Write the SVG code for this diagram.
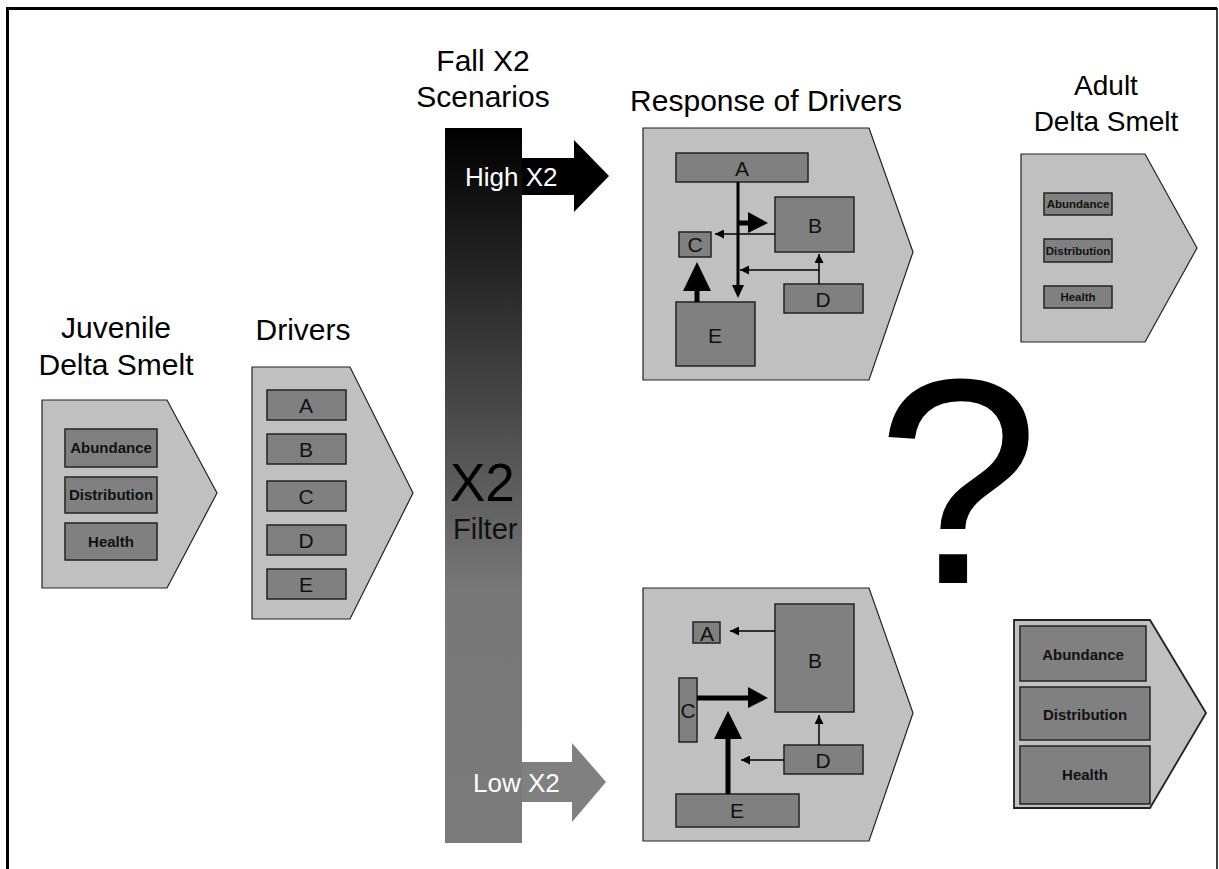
<svg xmlns="http://www.w3.org/2000/svg" width="1219" height="869" viewBox="0 0 1219 869">
<defs>
<linearGradient id="barGrad" x1="0" y1="128" x2="0" y2="843" gradientUnits="userSpaceOnUse">
<stop offset="0" stop-color="#000"/>
<stop offset="0.65" stop-color="#787878"/>
<stop offset="1" stop-color="#7a7a7a"/>
</linearGradient>
<marker id="thin" markerUnits="userSpaceOnUse" markerWidth="9" markerHeight="9" refX="9" refY="4.5" orient="auto">
<path d="M0,0 L9,4.5 L0,9 z" fill="#000"/>
</marker>
</defs>
<style>
.title{font-family:"Liberation Sans",Arial,sans-serif;font-size:30px;fill:#000;text-anchor:middle}
.shape{fill:#c0c0c0;stroke:#222;stroke-width:1.2}
.box{fill:#808080;stroke:#222;stroke-width:1.5}
.bl{font-family:"Liberation Sans",Arial,sans-serif;font-weight:bold;fill:#111;text-anchor:middle}
.let{font-family:"Liberation Sans",Arial,sans-serif;font-size:21px;fill:#111;text-anchor:middle}
.thin{stroke:#000;stroke-width:1.5;fill:none}
.thick{stroke:#000;stroke-width:5;fill:none}
.head{fill:#000}
.wt{font-family:"Liberation Sans",Arial,sans-serif;font-size:26px;fill:#fff}
</style>
<rect x="0" y="0" width="1219" height="869" fill="#fff"/>
<path d="M7.5,869 V8.5 H1217" fill="none" stroke="#000" stroke-width="3"/>
<path d="M1217,8 V869" fill="none" stroke="#000" stroke-width="1.5"/>

<g id="juvenile">
<text class="title" x="116" y="338">Juvenile</text>
<text class="title" x="116" y="375">Delta Smelt</text>
<polygon class="shape" points="42,400 167,400 217,493 167,588 42,588"/>
<rect class="box" x="65" y="429" width="92" height="38"/>
<rect class="box" x="65" y="477" width="92" height="36"/>
<rect class="box" x="65" y="523" width="92" height="37"/>
<text class="bl" font-size="15" x="111" y="453">Abundance</text>
<text class="bl" font-size="15" x="111" y="500">Distribution</text>
<text class="bl" font-size="15" x="111" y="547">Health</text>
</g>

<g id="drivers">
<text class="title" x="303" y="340">Drivers</text>
<polygon class="shape" points="252,367 350,367 413,493 350,619 252,619"/>
<rect class="box" x="267" y="390" width="79" height="30"/>
<rect class="box" x="267" y="434" width="79" height="30"/>
<rect class="box" x="267" y="481" width="79" height="30"/>
<rect class="box" x="267" y="525" width="79" height="30"/>
<rect class="box" x="267" y="569" width="79" height="30"/>
<text class="let" x="306" y="413">A</text>
<text class="let" x="306" y="457">B</text>
<text class="let" x="306" y="504">C</text>
<text class="let" x="306" y="548">D</text>
<text class="let" x="306" y="592">E</text>
</g>

<g id="filter">
<text class="title" x="483" y="71">Fall X2</text>
<text class="title" x="483" y="107">Scenarios</text>
<rect x="445" y="128" width="77" height="715" fill="url(#barGrad)"/>
<polygon points="522,158 574,158 574,140 609,176 574,212 574,195 522,195" fill="#000"/>
<polygon points="522,762 572,762 572,743 606,782 572,822 572,802 522,802" fill="#808080"/>
<text class="wt" x="465" y="186">High X2</text>
<text class="wt" x="473" y="792">Low X2</text>
<text x="450" y="501" font-family="Liberation Sans,Arial,sans-serif" font-size="53" fill="#000">X2</text>
<text x="453" y="539" font-family="Liberation Sans,Arial,sans-serif" font-size="29" fill="#111">Filter</text>
</g>

<g id="response-high">
<text class="title" x="766" y="111">Response of Drivers</text>
<polygon class="shape" points="643,128 869,128 913,252 869,380 643,380"/>
<rect class="box" x="676" y="153" width="132" height="29"/>
<rect class="box" x="775" y="197" width="79" height="55"/>
<rect class="box" x="679" y="232" width="32" height="25"/>
<rect class="box" x="784" y="284" width="79" height="29"/>
<rect class="box" x="676" y="302" width="79" height="64"/>
<text class="let" x="742" y="176">A</text>
<text class="let" x="815" y="233">B</text>
<text class="let" x="695" y="252">C</text>
<text class="let" x="823" y="307">D</text>
<text class="let" x="715" y="343">E</text>
</g>

<g id="response-low">
<polygon class="shape" points="643,588 869,588 913,713 869,841 643,841"/>
<rect class="box" x="693" y="622" width="27" height="21"/>
<rect class="box" x="775" y="604" width="79" height="108"/>
<rect class="box" x="679" y="678" width="18" height="64"/>
<rect class="box" x="784" y="745" width="79" height="29"/>
<rect class="box" x="676" y="794" width="123" height="33"/>
<text class="let" x="707" y="641">A</text>
<text class="let" x="815" y="668">B</text>
<text class="let" x="688" y="718">C</text>
<text class="let" x="823" y="768">D</text>
<text class="let" x="737" y="818">E</text>
</g>

<g id="adult-top">
<text class="title" x="1106" y="95" style="font-size:28px">Adult</text>
<text class="title" x="1106" y="131" style="font-size:28px">Delta Smelt</text>
<polygon class="shape" points="1021,154 1145,154 1197,248 1145,342 1021,342"/>
<rect class="box" x="1044" y="193" width="68" height="22"/>
<rect class="box" x="1044" y="239" width="68" height="23"/>
<rect class="box" x="1044" y="286" width="68" height="22"/>
<text class="bl" font-size="11.5" x="1078" y="208">Abundance</text>
<text class="bl" font-size="11.5" x="1078" y="254.5">Distribution</text>
<text class="bl" font-size="11.5" x="1078" y="301">Health</text>
</g>

<g id="adult-bottom">
<polygon class="shape" points="1014,620 1150,620 1206,713 1150,808 1014,808" style="stroke-width:1.8"/>
<rect class="box" x="1020" y="626" width="126" height="55"/>
<rect class="box" x="1020" y="687" width="130" height="53"/>
<rect class="box" x="1020" y="746" width="130" height="58"/>
<text class="bl" font-size="15" x="1083" y="660">Abundance</text>
<text class="bl" font-size="15" x="1085" y="720">Distribution</text>
<text class="bl" font-size="15" x="1085" y="780">Health</text>
</g>

<g id="question">
<text x="958" y="583" font-family="Liberation Sans,Arial,sans-serif" font-size="293" fill="#000" text-anchor="middle">?</text>
</g>

<g id="connectors">
<line x1="738" y1="182" x2="738" y2="287" stroke="#000" stroke-width="3"/>
<polygon class="head" points="732,285 744,285 738,298"/>
<line class="thick" x1="738" y1="223" x2="750" y2="223"/>
<polygon class="head" points="748,212 768,223 748,233"/>
<line class="thin" x1="775" y1="234" x2="715" y2="234" marker-end="url(#thin)"/>
<line class="thin" x1="819" y1="284" x2="819" y2="254" marker-end="url(#thin)"/>
<line class="thin" x1="819" y1="270" x2="740" y2="270" marker-end="url(#thin)"/>
<line class="thick" x1="697" y1="302" x2="697" y2="289"/>
<polygon class="head" points="683,291 711,291 697,262"/>

<line class="thin" x1="775" y1="631" x2="730" y2="631" marker-end="url(#thin)"/>
<line class="thick" x1="697" y1="698" x2="750" y2="698"/>
<polygon class="head" points="748,687 768,698 748,708"/>
<line class="thick" x1="728" y1="794" x2="728" y2="737"/>
<polygon class="head" points="714,739 742,739 728,711"/>
<line class="thin" x1="784" y1="760" x2="741" y2="760" marker-end="url(#thin)"/>
<line class="thin" x1="819" y1="745" x2="819" y2="715" marker-end="url(#thin)"/>
</g>
</svg>
